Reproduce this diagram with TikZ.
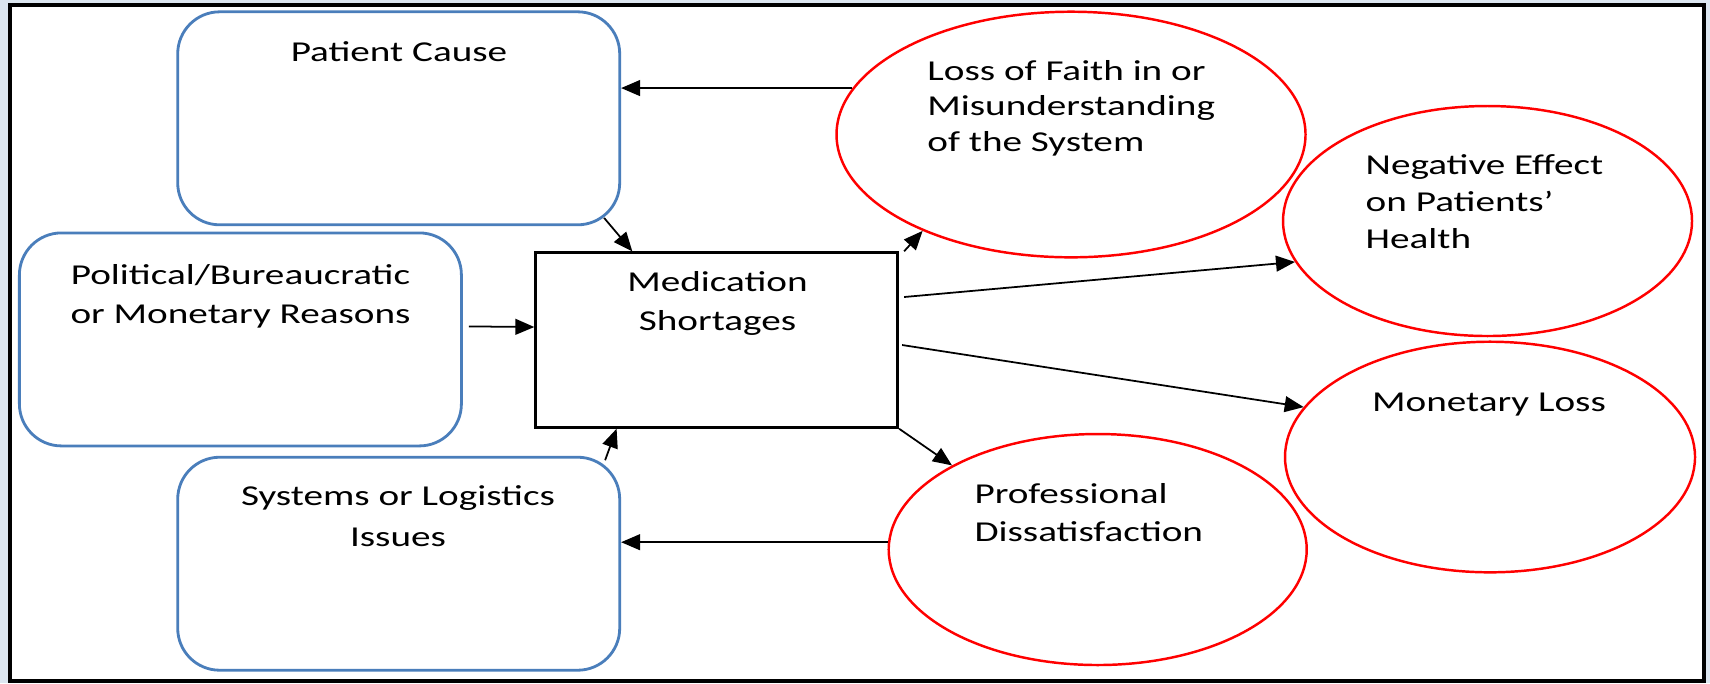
\documentclass[tikz,border=0pt]{standalone}
\usepackage{fontspec}
\setmainfont[FakeStretch=1.36]{Carlito}
\usepackage{xcolor}
\usepackage{tikz}
\usetikzlibrary{calc,shapes,arrows.meta}

\definecolor{causeblue}{HTML}{4A7EBB}
\definecolor{framebg}{HTML}{DCE6F0}

\begin{document}
\begin{tikzpicture}
\tikzstyle{cause}=[draw = causeblue, line width = 0.8pt, rounded corners = 0.42cm, minimum width = 4.42cm, minimum height = 2.13cm, inner sep = 0pt]
\tikzstyle{hub}=[draw, line width = 0.8pt, minimum width = 3.62cm, minimum height = 1.746cm, inner sep = 0pt]
\tikzstyle{effect}=[draw = red, ellipse, line width = 0.7pt, inner sep = 0pt]
\tikzstyle{btxt}=[inner sep = 0pt, anchor = base, align = center, font = \fontsize{8.2}{11}\selectfont]
\tikzstyle{etxt}=[inner sep = 0pt, anchor = base west, align = left, font = \fontsize{8.2}{10.2}\selectfont]
\tikzstyle{arr}=[line width = 0.5pt, -{Triangle[length=5.4pt,width=4.5pt]}]

% frame
\fill[framebg] (0,0) rectangle (17.10,-6.83);
\useasboundingbox (0,0) rectangle (17.10,-6.83);
\draw[fill = white, line width = 0.9pt] (0.10,-0.05) rectangle (17.04,-6.81);

% causes and the hub
\node[cause] (patient) at (3.987,-1.183) {};
\node[cause] (political) at (2.404,-3.394) {};
\node[cause] (systems) at (3.987,-5.637) {};
\node[hub] (med) at (7.167,-3.40) {};

% effects
\node[effect, minimum width = 4.69cm, minimum height = 2.456cm] (loss) at (10.71,-1.345) {};
\node[effect, minimum width = 4.09cm, minimum height = 2.30cm] (negative) at (14.875,-2.21) {};
\node[effect, minimum width = 4.10cm, minimum height = 2.306cm] (monetary) at (14.90,-4.57) {};
\node[effect, minimum width = 4.18cm, minimum height = 2.31cm] (prof) at (10.977,-5.495) {};

% texts (anchored at the last line)
\node[btxt] (patienttxt) at (3.99,-0.61) {Patient Cause};
\node[btxt] (politicaltxt) at (2.405,-3.233) {Political/Bureaucratic\\or Monetary Reasons};
\node[btxt, font = \fontsize{8.2}{11.6}\selectfont] (systemstxt) at (3.98,-5.467) {Systems or Logistics\\Issues};
\node[btxt] (medtxt) at (7.175,-3.30) {Medication\\Shortages};
\node[etxt] (losstxt) at (9.267,-1.517) {Loss of Faith in or\\Misunderstanding\\of the System};
\node[etxt, font = \fontsize{8.2}{10.5}\selectfont] (negativetxt) at (13.65,-2.483) {Negative Effect\\on Patients’\\Health};
\node[btxt] (monetarytxt) at (14.89,-4.117) {Monetary Loss};
\node[etxt, font = \fontsize{8.2}{10.7}\selectfont] (proftxt) at (9.738,-5.41) {Professional\\Dissatisfaction};

% connectors
\draw[arr] (loss.168) -- (loss.168 -| patient.east);
\draw[arr] ($(patient.south east)+(-0.17,0.083)$) -- ($(med.north west)+(0.98,0)$);
\draw[arr] ([shift={(0.06,0.13)}]political.east) -- ([yshift=1.3mm]med.west);
\draw[arr] ($(systems.north east)+(-0.16,-0.044)$) -- ($(med.south west)+(0.823,0)$);
\draw[arr] (prof.178) -- (prof.178 -| systems.east);
\draw[arr] ([xshift=0.5mm]med.north east) -- (loss.213);
\draw[arr] ([shift={(0.05,0.43)}]med.east) -- (negative.192);
\draw[arr] ([shift={(0.03,-0.05)}]med.east) -- (monetary.165);
\draw[arr] (med.south east) -- (prof.150);
\end{tikzpicture}
\end{document}
